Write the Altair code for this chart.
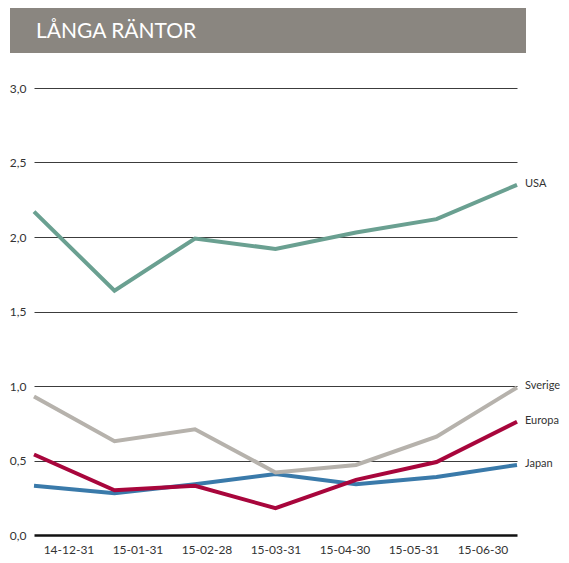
import altair as alt
import pandas as pd

dates = ["14-12-31", "15-01-31", "15-02-28", "15-03-31", "15-04-30", "15-05-31", "15-06-30"]
series_names = ["Japan", "Sverige", "Europa", "USA"]
japan = [0.33, 0.28, 0.34, 0.41, 0.34, 0.39, 0.47]
sverige = [0.93, 0.63, 0.71, 0.42, 0.47, 0.66, 0.99]
europa = [0.54, 0.30, 0.33, 0.18, 0.37, 0.49, 0.76]
usa = [2.17, 1.64, 1.99, 1.92, 2.03, 2.12, 2.35]
colors = ["#3a7aaa", "#b6b2ac", "#a8063c", "#6aa091"]
y_ticks = [0, 0.5, 1.0, 1.5, 2.0, 2.5, 3.0]
title_text = "LÅNGA RÄNTOR"

rows = []
for name, vals in zip(series_names, [japan, sverige, europa, usa]):
    for d, v in zip(dates, vals):
        rows.append({"datum": d, "serie": name, "varde": v})
df = pd.DataFrame(rows)
last = df[df["datum"] == dates[-1]]

FONT = "Lato"

x_line = alt.X("datum:N", sort=dates, scale=alt.Scale(type="point", padding=0), axis=None)
y_enc = alt.Y(
    "varde:Q",
    scale=alt.Scale(domain=[0, 3]),
    axis=alt.Axis(
        values=y_ticks,
        title=None,
        domain=False,
        ticks=False,
        grid=True,
        gridColor={"condition": {"test": "datum.value === 0", "value": "#111111"}, "value": "#3c3c3c"},
        gridWidth={"condition": {"test": "datum.value === 0", "value": 2.5}, "value": 1},
        labelExpr="replace(format(datum.value, '.1f'), '.', ',')",
        labelFont=FONT,
        labelFontSize=12,
        labelColor="#333333",
        labelPadding=8,
    ),
)
color_enc = alt.Color(
    "serie:N",
    scale=alt.Scale(domain=series_names, range=colors),
    legend=None,
)

lines = alt.Chart(df).mark_line(strokeWidth=4, strokeCap="butt", strokeJoin="miter").encode(
    x=x_line, y=y_enc, color=color_enc, order=alt.Order("serie:N")
)

labels = alt.Chart(last).mark_text(
    align="left", baseline="middle", dx=8, dy=-1, font=FONT, fontSize=11, color="#333333"
).encode(x=x_line, y="varde:Q", text="serie:N")

banner_data = alt.Data(values=[{}])
banner = alt.Chart(banner_data).mark_rect(color="#8a8680").encode(
    x=alt.value(-24), x2=alt.value(492), y=alt.value(-80), y2=alt.value(-35)
)
title = alt.Chart(banner_data).mark_text(
    text=title_text, align="left", baseline="middle", font=FONT, fontSize=21, color="white"
).encode(x=alt.value(2), y=alt.value(-56))

inner = alt.layer(banner, title, lines, labels)

axis_layer = alt.Chart(pd.DataFrame({"datum": dates})).mark_text(text="").encode(
    x=alt.X(
        "datum:N",
        sort=dates,
        scale=alt.Scale(type="point", padding=0.5),
        axis=alt.Axis(
            title=None,
            domain=False,
            ticks=False,
            grid=False,
            labelAngle=0,
            labelFont=FONT,
            labelFontSize=12,
            labelColor="#333333",
            labelPadding=9,
        ),
    )
)

chart = alt.layer(inner, axis_layer).resolve_scale(x="independent").properties(
    width=483,
    height=447,
    autosize=alt.AutoSizeParams(type="none"),
    padding={"left": 26, "top": 80, "right": 44, "bottom": 20},
).configure_view(stroke=None)

chart.save("out.html", embed_options={"renderer": "svg", "actions": False})
